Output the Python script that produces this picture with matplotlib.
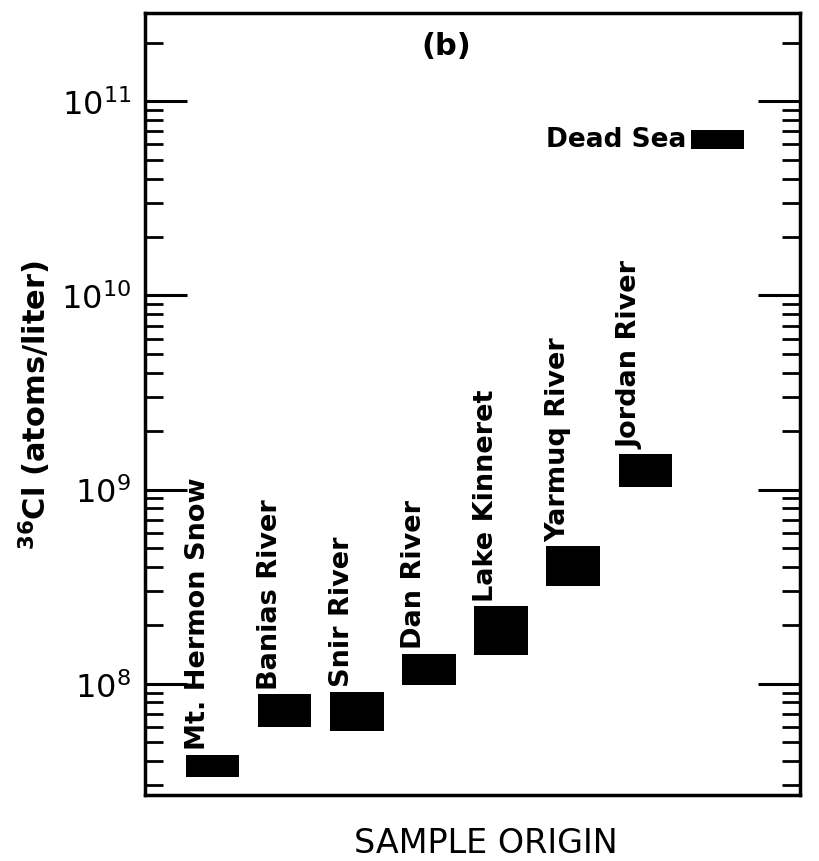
import numpy as np
import matplotlib
matplotlib.use("Agg")
import matplotlib.pyplot as plt
from matplotlib.ticker import LogLocator, LogFormatterMathtext, NullFormatter, NullLocator

# sample sites, left to right
sites = ["Mt. Hermon Snow", "Banias River", "Snir River", "Dan River",
         "Lake Kinneret", "Yarmuq River", "Jordan River", "Dead Sea"]
# 36Cl range for each site (atoms/liter)
cl36_low = [3.3e7, 6.0e7, 5.7e7, 9.8e7, 1.41e8, 3.2e8, 1.03e9, 5.7e10]
cl36_high = [4.3e7, 8.8e7, 9.1e7, 1.43e8, 2.5e8, 5.1e8, 1.53e9, 7.1e10]

fig = plt.figure(figsize=(8.19, 8.62), dpi=100)
ax = fig.add_axes([0.177, 0.0766, 0.800, 0.9074])

x = np.arange(len(sites))
box_w = 0.74
lo = np.array(cl36_low)
hi = np.array(cl36_high)
ax.bar(x, hi - lo, bottom=lo, width=box_w, color="black")

for i, name in enumerate(sites):
    if name == "Dead Sea":
        ax.annotate(name, (x[i] - box_w / 2, np.sqrt(lo[i] * hi[i])), xytext=(-3, 0),
                    textcoords="offset points", ha="right", va="center",
                    fontsize=19, fontweight="bold")
    else:
        ax.annotate(name, (x[i] - box_w / 2, hi[i]), xytext=(-1, 4),
                    textcoords="offset points", rotation=90, ha="left", va="bottom",
                    fontsize=19.5, fontweight="bold")

ax.set_yscale("log")
ax.set_ylim(2.67e7, 2.86e11)
ax.set_xlim(-0.94, 8.15)

ax.yaxis.set_major_locator(LogLocator(base=10))
ax.yaxis.set_major_formatter(LogFormatterMathtext())
ax.yaxis.set_minor_locator(LogLocator(base=10, subs=np.arange(2, 10)))
ax.yaxis.set_minor_formatter(NullFormatter())
ax.xaxis.set_major_locator(NullLocator())
ax.xaxis.set_minor_locator(NullLocator())

ax.tick_params(axis="y", which="major", direction="in", length=30, width=2.2,
               left=True, right=True, labelsize=23, pad=10)
ax.tick_params(axis="y", which="minor", direction="in", length=13, width=2.0,
               left=True, right=True)
for sp in ax.spines.values():
    sp.set_linewidth(2.5)

ax.set_ylabel(r"$^{\mathbf{36}}$Cl (atoms/liter)", fontsize=22, fontweight="bold", labelpad=6)
ax.set_xlabel("SAMPLE ORIGIN", fontsize=24, labelpad=18)
ax.xaxis.set_label_coords(0.52, -0.04, transform=ax.transAxes)
ax.xaxis.label.set_va("top")
ax.text(0.46, 0.958, "(b)", transform=ax.transAxes, ha="center", va="center",
        fontsize=22, fontweight="bold")

fig.savefig("out.png", dpi=100)
